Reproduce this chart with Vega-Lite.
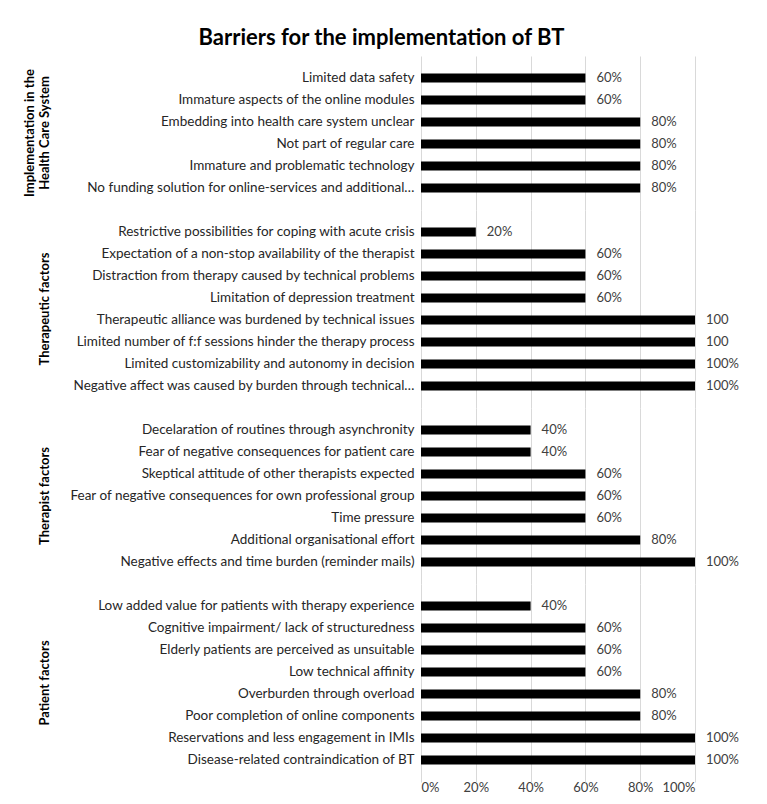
{
  "$schema": "https://vega.github.io/schema/vega-lite/v6.json",
  "padding": {"left": 24, "top": 27, "right": 10, "bottom": 0},
  "background": "#ffffff",
  "title": {"text": "Barriers for the implementation of BT", "fontSize": 22, "font": "Lato", "fontWeight": "bold", "anchor": "middle", "frame": "bounds", "color": "#000000", "offset": 6},
  "data": {"values": [
    {"group": "Implementation in the Health Care System", "gorder": 1, "item": "Limited data safety", "value": 0.6, "label": "60%"},
    {"group": "Implementation in the Health Care System", "gorder": 1, "item": "Immature aspects of the online modules", "value": 0.6, "label": "60%"},
    {"group": "Implementation in the Health Care System", "gorder": 1, "item": "Embedding  into health care system unclear", "value": 0.8, "label": "80%"},
    {"group": "Implementation in the Health Care System", "gorder": 1, "item": "Not part of regular care", "value": 0.8, "label": "80%"},
    {"group": "Implementation in the Health Care System", "gorder": 1, "item": "Immature and problematic technology", "value": 0.8, "label": "80%"},
    {"group": "Implementation in the Health Care System", "gorder": 1, "item": "No funding solution for online-services and additional…", "value": 0.8, "label": "80%"},
    {"group": "Therapeutic  factors", "gorder": 2, "item": "Restrictive possibilities for coping with acute crisis", "value": 0.2, "label": "20%"},
    {"group": "Therapeutic  factors", "gorder": 2, "item": "Expectation of a non-stop availability of the therapist", "value": 0.6, "label": "60%"},
    {"group": "Therapeutic  factors", "gorder": 2, "item": "Distraction from therapy caused by technical problems", "value": 0.6, "label": "60%"},
    {"group": "Therapeutic  factors", "gorder": 2, "item": "Limitation of depression treatment", "value": 0.6, "label": "60%"},
    {"group": "Therapeutic  factors", "gorder": 2, "item": "Therapeutic alliance was burdened by technical issues", "value": 1.0, "label": "100"},
    {"group": "Therapeutic  factors", "gorder": 2, "item": "Limited number of f:f sessions hinder the therapy process", "value": 1.0, "label": "100"},
    {"group": "Therapeutic  factors", "gorder": 2, "item": "Limited customizability and autonomy in decision", "value": 1.0, "label": "100%"},
    {"group": "Therapeutic  factors", "gorder": 2, "item": "Negative affect was caused by burden through technical…", "value": 1.0, "label": "100%"},
    {"group": "Therapist  factors", "gorder": 3, "item": "Decelaration of routines through asynchronity", "value": 0.4, "label": "40%"},
    {"group": "Therapist  factors", "gorder": 3, "item": "Fear of negative consequences for patient care ", "value": 0.4, "label": "40%"},
    {"group": "Therapist  factors", "gorder": 3, "item": "Skeptical attitude of other therapists expected", "value": 0.6, "label": "60%"},
    {"group": "Therapist  factors", "gorder": 3, "item": "Fear of negative consequences for own professional group", "value": 0.6, "label": "60%"},
    {"group": "Therapist  factors", "gorder": 3, "item": "Time pressure", "value": 0.6, "label": "60%"},
    {"group": "Therapist  factors", "gorder": 3, "item": "Additional organisational effort", "value": 0.8, "label": "80%"},
    {"group": "Therapist  factors", "gorder": 3, "item": "Negative effects and time burden (reminder mails)", "value": 1.0, "label": "100%"},
    {"group": "Patient  factors", "gorder": 4, "item": "Low added value for patients with therapy experience", "value": 0.4, "label": "40%"},
    {"group": "Patient  factors", "gorder": 4, "item": "Cognitive impairment/ lack of structuredness", "value": 0.6, "label": "60%"},
    {"group": "Patient  factors", "gorder": 4, "item": "Elderly patients are perceived as unsuitable", "value": 0.6, "label": "60%"},
    {"group": "Patient  factors", "gorder": 4, "item": "Low technical affinity", "value": 0.6, "label": "60%"},
    {"group": "Patient  factors", "gorder": 4, "item": "Overburden through overload", "value": 0.8, "label": "80%"},
    {"group": "Patient  factors", "gorder": 4, "item": "Poor completion of online components", "value": 0.8, "label": "80%"},
    {"group": "Patient  factors", "gorder": 4, "item": "Reservations and less engagement in IMIs", "value": 1.0, "label": "100%"},
    {"group": "Patient  factors", "gorder": 4, "item": "Disease-related contraindication of BT", "value": 1.0, "label": "100%"}
  ]},
  "facet": {
    "row": {
      "field": "group", "type": "nominal", "sort": {"field": "gorder", "op": "min"},
      "header": {
        "title": null,
        "labelOrient": "left",
        "labelAngle": -90,
        "labelFont": "Lato",
        "labelFontSize": 13,
        "labelFontWeight": "bold",
        "labelColor": "#000000",
        "labelPadding": 11,
        "labelLineHeight": 15,
        "labelExpr": "datum.value == 'Implementation in the Health Care System' ? ['Implementation in the', 'Health Care System'] : datum.value"
      }
    }
  },
  "spacing": 0,
  "resolve": {"scale": {"y": "independent"}},
  "spec": {
    "width": 274,
    "height": {"step": 22},
    "encoding": {
      "y": {
        "field": "item", "type": "nominal", "sort": null,
        "scale": {"paddingInner": 0.6, "paddingOuter": 0.8},
        "axis": {"title": null, "domain": false, "ticks": false, "labelPadding": 7, "labelLimit": 420, "labelFont": "Lato", "labelFontSize": 13.5, "labelColor": "#262626"}
      },
      "x": {
        "field": "value", "type": "quantitative",
        "scale": {"domain": [0, 1]},
        "axis": {"title": null, "values": [0, 0.2, 0.4, 0.6, 0.8, 1], "format": ".0%", "domain": false, "ticks": false, "gridColor": "#d9d9d9", "gridWidth": 1, "labelPadding": -1, "labelFont": "Lato", "labelFontSize": 13, "labelColor": "#404040"}
      }
    },
    "layer": [
      {"mark": {"type": "bar", "color": "#000000"}},
      {"mark": {"type": "text", "align": "left", "baseline": "middle", "dx": 11, "font": "Lato", "fontSize": 13, "color": "#404040"},
       "encoding": {"text": {"field": "label", "type": "nominal"}}}
    ]
  },
  "config": {"view": {"stroke": null}}
}
